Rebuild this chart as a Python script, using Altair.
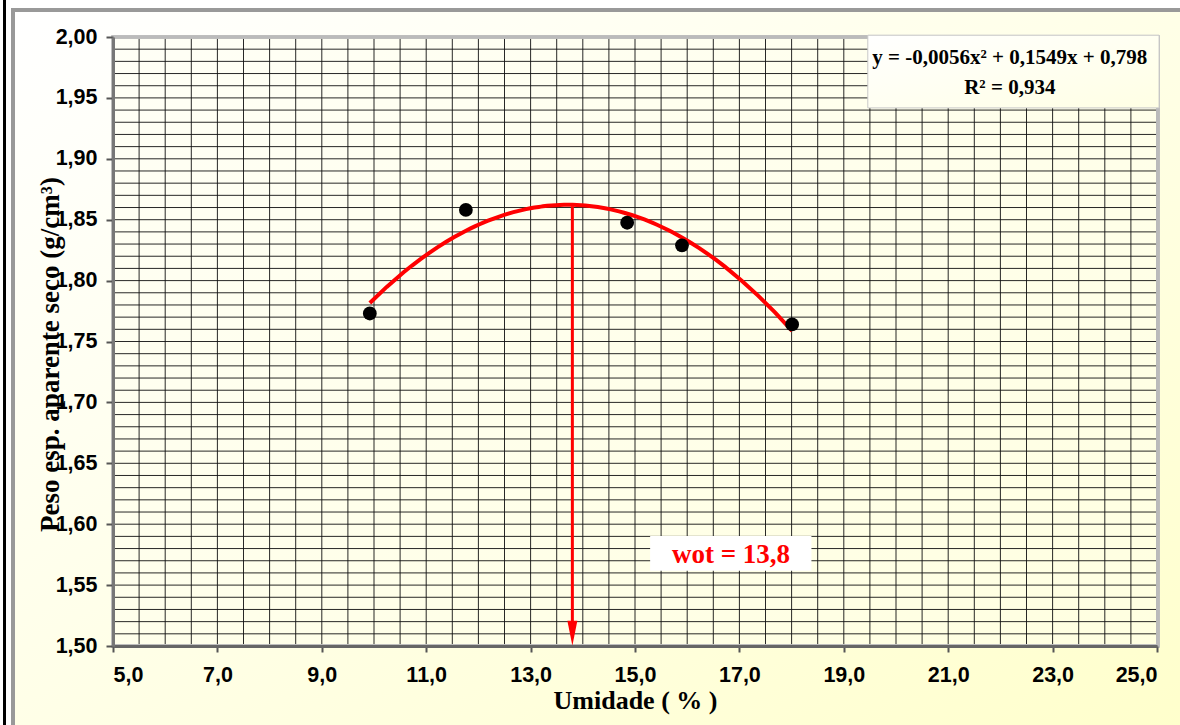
import altair as alt
import pandas as pd

# ---- data ----
umidade = [9.92, 11.76, 14.85, 15.90, 18.01]
peso = [1.773, 1.858, 1.8475, 1.829, 1.764]

x_ticks = [5.0, 7.0, 9.0, 11.0, 13.0, 15.0, 17.0, 19.0, 21.0, 23.0, 25.0]
y_ticks = [1.50, 1.55, 1.60, 1.65, 1.70, 1.75, 1.80, 1.85, 1.90, 1.95, 2.00]
x_grid = [v / 2 for v in range(10, 51)]
y_grid = [round(1.5 + i * 0.01, 2) for i in range(51)]

wot = [13.8]
peak = [1.861]
eq_lines = ["y = -0,0056x² + 0,1549x + 0,798", "R² = 0,934"]
wot_label = ["wot = 13,8"]

W, H = 1044, 609
PL, PT, PR, PB = 113, 37, 23, 79

xs = alt.Scale(domain=[5, 25], nice=False, zero=False)
ys = alt.Scale(domain=[1.5, 2.0], nice=False, zero=False)

pts = pd.DataFrame({"umidade": umidade, "peso": peso})

SANS = "Liberation Sans"
SERIF = "Liberation Serif"

x_axis = alt.Axis(
    values=x_ticks, grid=False, zindex=1,
    labelExpr="replace(format(datum.value, '.1f'), '.', ',')",
    labelFont=SANS, labelFontSize=21.5, labelFontWeight="bold", labelColor="black",
    labelPadding=12, tickSize=6, tickWidth=2, tickColor="#555555",
    domainColor="#666666", domainWidth=3,
    title="Umidade ( % )", titleFont=SERIF, titleFontSize=26, titleFontWeight="bold",
    titleColor="black", titleX=W / 2, titleY=62, titleBaseline="alphabetic", titleAlign="center",
)
y_axis = alt.Axis(
    values=y_ticks, grid=False, zindex=1,
    labelExpr="replace(format(datum.value, '.2f'), '.', ',')",
    labelFont=SANS, labelFontSize=21.5, labelFontWeight="bold", labelColor="black",
    labelPadding=9, tickSize=7, tickWidth=2, tickColor="#555555",
    domainColor="#777777", domainWidth=3,
    title="Peso esp. aparente seco (g/cm³)", titleFont=SERIF, titleFontSize=27,
    titleFontWeight="bold", titleColor="black", titleAngle=270,
    titleX=-55, titleY=317, titleBaseline="alphabetic", titleAlign="center",
)


def X(field):
    return alt.X(field, type="quantitative", scale=xs, axis=x_axis)


def Y(field):
    return alt.Y(field, type="quantitative", scale=ys, axis=y_axis)


base = alt.Chart(pts)

outer_bg = base.mark_rect(
    fill=alt.LinearGradient(
        gradient="linear",
        stops=[alt.GradientStop(offset=0, color="#FFFFFF"),
               alt.GradientStop(offset=0.45, color="#FFFFEA"),
               alt.GradientStop(offset=1, color="#FFFFCC")],
        x1=0, y1=0, x2=1, y2=1)
).encode(x=alt.value(-98), x2=alt.value(W + PR), y=alt.value(-25), y2=alt.value(H + PB))

frame_black = base.mark_rule(color="black", strokeWidth=3).encode(
    x=alt.value(-108.5), y=alt.value(-PT), y2=alt.value(H + PB))
frame_gray_l = base.mark_rule(color="#999999", strokeWidth=4).encode(
    x=alt.value(-100), y=alt.value(-29), y2=alt.value(H + PB))
frame_gray_t = base.mark_rule(color="#999999", strokeWidth=4).encode(
    y=alt.value(-27), x=alt.value(-102), x2=alt.value(W + PR))

plot_bg = base.mark_rect(
    fill=alt.LinearGradient(
        gradient="linear",
        stops=[alt.GradientStop(offset=0, color="#FFFFF6"),
               alt.GradientStop(offset=1, color="#FFFFE0")],
        x1=0, y1=0, x2=1, y2=1)
).encode(x=alt.value(0), x2=alt.value(W), y=alt.value(0), y2=alt.value(H))

vgrid = alt.Chart(pd.DataFrame({"gx": x_grid})).mark_rule(
    color="#111111", strokeWidth=1, opacity=0.9
).encode(x=X("gx"))

hgrid = alt.Chart(pd.DataFrame({"gy": y_grid})).mark_rule(
    color="#111111", strokeWidth=1, opacity=0.9
).encode(y=Y("gy"))

plot_border = base.mark_rect(fill=None, stroke="#BBBBBB", strokeWidth=3).encode(
    x=alt.value(0), x2=alt.value(W + 1), y=alt.value(0), y2=alt.value(H))

curve = base.transform_regression(
    "umidade", "peso", method="poly", order=2
).mark_line(color="#FF0000", strokeWidth=4).encode(x=X("umidade"), y=Y("peso"))

points = base.mark_point(filled=True, color="black", size=190, opacity=1).encode(
    x=X("umidade"), y=Y("peso"))

arrow_df = pd.DataFrame({"x": wot, "top": peak, "bottom": [1.512], "tip": [1.5105]})
arrow_line = alt.Chart(arrow_df).mark_rule(color="#FF0000", strokeWidth=3).encode(
    x=X("x"), y=Y("top"), y2="bottom:Q")
arrow_head = alt.Chart(arrow_df).mark_point(
    shape="M-0.4,-1L0.4,-1L0,1Z", size=625, filled=True, color="#FF0000", opacity=1
).encode(x=X("x"), y=Y("tip"))

eq_box_df = pd.DataFrame({"x": [19.46], "x2": [25.04], "y": [2.0015], "y2": [1.9418]})
eq_box = alt.Chart(eq_box_df).mark_rect(
    fill=alt.LinearGradient(
        gradient="linear",
        stops=[alt.GradientStop(offset=0, color="#FFFFFF"),
               alt.GradientStop(offset=1, color="#FFFFE4")],
        x1=0, y1=0, x2=1, y2=1),
    stroke="#C8C8C8", strokeWidth=1,
).encode(x=X("x"), x2="x2:Q", y=Y("y"), y2="y2:Q")

eq_text_df = pd.DataFrame({"x": [22.18, 22.18], "y": [1.9828, 1.9582], "t": eq_lines})
eq_text = alt.Chart(eq_text_df).mark_text(
    font=SERIF, fontSize=21, fontWeight="bold", color="black", baseline="middle", align="center"
).encode(x=X("x"), y=Y("y"), text="t:N")

wot_box_df = pd.DataFrame({"x": [15.29], "x2": [18.38], "y": [1.5904], "y2": [1.5617]})
wot_box = alt.Chart(wot_box_df).mark_rect(fill="white").encode(
    x=X("x"), x2="x2:Q", y=Y("y"), y2="y2:Q")

wot_text_df = pd.DataFrame({"x": [16.84], "y": [1.5745], "t": wot_label})
wot_text = alt.Chart(wot_text_df).mark_text(
    font=SERIF, fontSize=27, fontWeight="bold", color="#FF0000", baseline="middle", align="center"
).encode(x=X("x"), y=Y("y"), text="t:N")

chart = alt.layer(
    outer_bg, frame_black, frame_gray_l, frame_gray_t, plot_bg,
    vgrid, hgrid, plot_border,
    eq_box, eq_text, wot_box, wot_text,
    curve, arrow_line, arrow_head, points,
).properties(
    width=W, height=H,
    padding={"left": PL, "top": PT, "right": PR, "bottom": PB},
    autosize=alt.AutoSizeParams(type="none"),
).configure(background="white").configure_view(stroke=None)

chart.save("out.html", embed_options={"renderer": "svg", "actions": False})
